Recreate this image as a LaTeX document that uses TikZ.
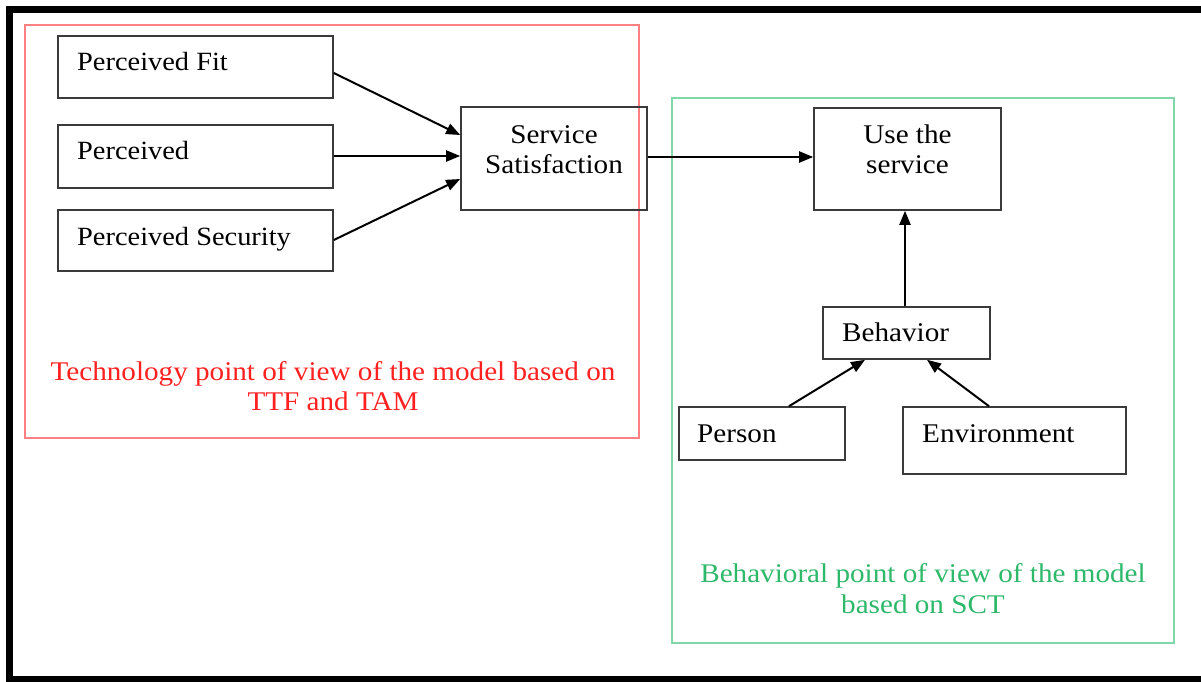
\documentclass[tikz,border=0pt]{standalone}
\usepackage{fontspec}
\setmainfont{Liberation Serif}[FakeStretch=1.08]
\usetikzlibrary{arrows.meta}
\definecolor{boxline}{HTML}{3A3A3A}
\definecolor{techred}{HTML}{FF2020}
\definecolor{techframe}{HTML}{FF8080}
\definecolor{behgreen}{HTML}{2DB86A}
\definecolor{behframe}{HTML}{80D8A8}

\begin{document}
\begin{tikzpicture}[x=1pt,y=-1pt,
  every node/.style={font=\fontsize{27}{31}\selectfont},
  box/.style={draw=boxline, line width=1.6pt, rectangle, inner sep=0pt},
  txt/.style={inner sep=0pt, anchor=base west},
  ltxt/.style={txt, font=\fontsize{26.3}{30}\selectfont},
  ctxt/.style={inner sep=0pt, anchor=base},
  conn/.style={draw=black, line width=2pt, -{Triangle[length=14pt,width=11pt]}}
]
\useasboundingbox (0,0) rectangle (1201,681);
% outer frame (right side runs off the page)
\draw[line width=6.5pt] (9.3,9.3) rectangle (1230,679.5);

% group frames
\draw[techframe, line width=2pt] (25,25) rectangle (639,438);
\draw[behframe, line width=2pt] (672,98) rectangle (1174,643);

% technology side
\node[box, minimum width=275pt, minimum height=62pt] (pf) at (195.5,67) {};
\node[box, minimum width=275pt, minimum height=63pt] (pp) at (195.5,156.5) {};
\node[box, minimum width=275pt, minimum height=61pt] (ps) at (195.5,240.5) {};
\node[ltxt] (pft) at (77,70) {Perceived Fit};
\node[ltxt] (ppt) at (77,159) {Perceived};
\node[ltxt] (pst) at (77,245) {Perceived Security};

\node[box, minimum width=186pt, minimum height=103pt] (ss) at (554,158.5) {};
\node[ctxt] (sst1) at (554,143) {Service};
\node[ctxt] (sst2) at (554,173) {Satisfaction};

\node[ctxt, text=techred] (tr1) at (333,380) {Technology point of view of the model based on};
\node[ctxt, text=techred] (tr2) at (333,410) {TTF and TAM};

% behavioral side
\node[box, minimum width=187pt, minimum height=102pt] (use) at (907.5,159) {};
\node[ctxt] (uset1) at (907.5,143) {Use the};
\node[ctxt] (uset2) at (907.5,173) {service};

\node[box, minimum width=167pt, minimum height=52pt] (beh) at (906.5,333) {};
\node[txt] (beht) at (842,341) {Behavior};
\node[box, minimum width=166pt, minimum height=53pt] (per) at (762,433.5) {};
\node[txt] (pert) at (697,442) {Person};
\node[box, minimum width=223pt, minimum height=67pt] (env) at (1014.5,440.5) {};
\node[txt] (envt) at (922,442) {Environment};

\node[ctxt, text=behgreen] (bg1) at (923,582) {Behavioral point of view of the model};
\node[ctxt, text=behgreen] (bg2) at (923,613) {based on SCT};

% connectors
\draw[conn] ([yshift=-6pt]pf.east) -- ([yshift=23.5pt]ss.west);
\draw[conn] ([yshift=0.5pt]pp.east) -- ([yshift=0.5pt]pp.east -| ss.west);
\draw[conn] ([yshift=0.5pt]ps.east) -- ([yshift=-20.5pt]ss.west);
\draw[conn] ([yshift=1.5pt]ss.east) -- ([yshift=1.5pt]ss.east -| use.west);
\draw[conn] ([xshift=-1.5pt]beh.north) -- ([xshift=-1.5pt]beh.north |- use.south);
\draw[conn] ([xshift=27pt]per.north) -- ([xshift=-41.5pt]beh.south);
\draw[conn] ([xshift=-25.5pt]env.north) -- ([xshift=20.5pt]beh.south);
\end{tikzpicture}
\end{document}
